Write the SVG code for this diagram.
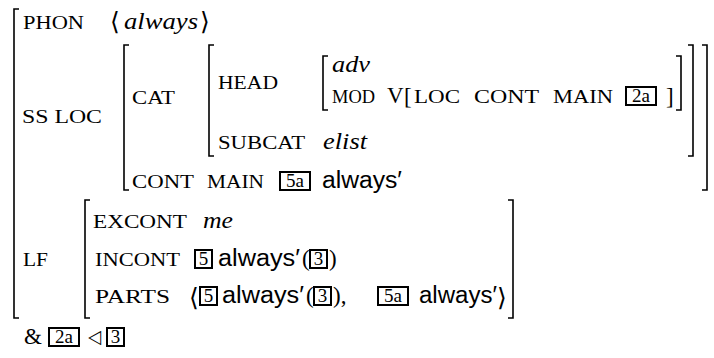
<svg xmlns="http://www.w3.org/2000/svg" width="714" height="358" viewBox="0 0 714 358">
<style>
.br{fill:none;stroke:#000;stroke-width:1.6}
.bx{fill:none;stroke:#000;stroke-width:2}
.sc{font-family:"Liberation Serif",serif;font-size:19px;fill:#000}
.it{font-family:"Liberation Serif",serif;font-style:italic;font-size:24px;fill:#000}
.rm{font-family:"Liberation Serif",serif;font-size:23px;fill:#000}
.sf{font-family:"Liberation Sans",sans-serif;font-size:23px;fill:#000}
.tg{font-family:"Liberation Serif",serif;font-size:19px;fill:#000;text-anchor:middle}
.ang{font-family:"DejaVu Serif",serif;font-size:25px;fill:#000}
.tri{font-family:"DejaVu Sans",sans-serif;font-size:19px;fill:#000}
</style>
<rect width="714" height="358" fill="#fff"/>
<g id="brackets">
<path class="br" d="M19 9H14V318H19"/>
<path class="br" d="M129 45H124V190H129"/>
<path class="br" d="M702 45H707V190H702"/>
<path class="br" d="M214 45H209V156H214"/>
<path class="br" d="M688 45H693V156H688"/>
<path class="br" d="M328 56H323V110H328"/>
<path class="br" d="M676 56H681V110H676"/>
<path class="br" d="M90 200H85V318H90"/>
<path class="br" d="M508 200H513V318H508"/>
</g>
<g id="phon">
<text class="sc" x="23" y="29" textLength="61" lengthAdjust="spacingAndGlyphs">PHON</text>
<text class="ang" x="110" y="30">⟨</text>
<text class="it" x="124" y="29" textLength="74" lengthAdjust="spacingAndGlyphs">always</text>
<text class="ang" x="200" y="30">⟩</text>
</g>
<g id="ssloc">
<text class="sc" x="22" y="123" textLength="80" lengthAdjust="spacingAndGlyphs">SS LOC</text>
<text class="sc" x="132" y="104" textLength="43" lengthAdjust="spacingAndGlyphs">CAT</text>
</g>
<g id="head">
<text class="sc" x="218" y="89" textLength="60" lengthAdjust="spacingAndGlyphs">HEAD</text>
<text class="it" x="332" y="72" textLength="38" lengthAdjust="spacingAndGlyphs">adv</text>
<text class="sc" x="332" y="103" textLength="43" lengthAdjust="spacingAndGlyphs">MOD</text>
<text class="rm" x="387" y="103">V</text>
<text class="rm" x="404" y="104">[</text>
<text class="sc" x="414" y="103" textLength="46" lengthAdjust="spacingAndGlyphs">LOC</text>
<text class="sc" x="474" y="103" textLength="65" lengthAdjust="spacingAndGlyphs">CONT</text>
<text class="sc" x="553" y="103" textLength="60" lengthAdjust="spacingAndGlyphs">MAIN</text>
<rect class="bx" x="626" y="87" width="30" height="18"/>
<text class="tg" x="641" y="102">2a</text>
<text class="rm" x="666" y="104">]</text>
</g>
<g id="subcat">
<text class="sc" x="218" y="149" textLength="87" lengthAdjust="spacingAndGlyphs">SUBCAT</text>
<text class="it" x="323" y="149" textLength="44" lengthAdjust="spacingAndGlyphs">elist</text>
</g>
<g id="contmain">
<text class="sc" x="132" y="188" textLength="62" lengthAdjust="spacingAndGlyphs">CONT</text>
<text class="sc" x="207" y="188" textLength="57" lengthAdjust="spacingAndGlyphs">MAIN</text>
<rect class="bx" x="280" y="172" width="30" height="18"/>
<text class="tg" x="295" y="187">5a</text>
<text class="sf" x="322" y="188" textLength="80" lengthAdjust="spacingAndGlyphs">always′</text>
</g>
<g id="lf">
<text class="sc" x="23" y="266" textLength="25" lengthAdjust="spacingAndGlyphs">LF</text>
<text class="sc" x="93" y="228" textLength="94" lengthAdjust="spacingAndGlyphs">EXCONT</text>
<text class="it" x="203" y="228" textLength="30" lengthAdjust="spacingAndGlyphs">me</text>
<text class="sc" x="95" y="266" textLength="85" lengthAdjust="spacingAndGlyphs">INCONT</text>
<rect class="bx" x="195" y="250" width="17" height="18"/>
<text class="tg" x="203.5" y="265">5</text>
<text class="sf" x="218" y="266" textLength="82" lengthAdjust="spacingAndGlyphs">always′</text>
<text class="rm" x="302" y="266">(</text>
<rect class="bx" x="310" y="250" width="17" height="18"/>
<text class="tg" x="318.5" y="265">3</text>
<text class="rm" x="329" y="266">)</text>
<text class="sc" x="95" y="303" textLength="75" lengthAdjust="spacingAndGlyphs">PARTS</text>
<text class="ang" x="189" y="306" font-size="29">⟨</text>
<rect class="bx" x="200" y="287" width="17" height="18"/>
<text class="tg" x="208.5" y="302">5</text>
<text class="sf" x="222" y="303" textLength="82" lengthAdjust="spacingAndGlyphs">always′</text>
<text class="rm" x="306" y="303">(</text>
<rect class="bx" x="314" y="287" width="17" height="18"/>
<text class="tg" x="322.5" y="302">3</text>
<text class="rm" x="333" y="303">),</text>
<rect class="bx" x="378" y="287" width="30" height="18"/>
<text class="tg" x="393" y="302">5a</text>
<text class="sf" x="419" y="303" textLength="78" lengthAdjust="spacingAndGlyphs">always′</text>
<text class="ang" x="497" y="306" font-size="29">⟩</text>
</g>
<g id="constraint">
<text class="rm" x="24" y="344" font-size="26">&amp;</text>
<rect class="bx" x="49" y="328" width="30" height="18"/>
<text class="tg" x="64" y="343">2a</text>
<text class="tri" x="88" y="343" textLength="13" lengthAdjust="spacingAndGlyphs">◁</text>
<rect class="bx" x="107" y="328" width="17" height="18"/>
<text class="tg" x="115.5" y="343">3</text>
</g>
</svg>
